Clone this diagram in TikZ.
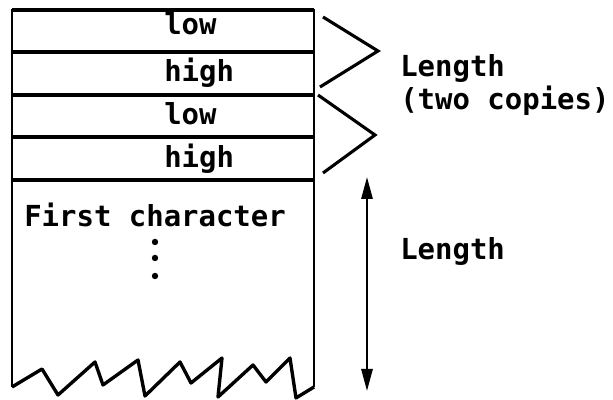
\documentclass[tikz,border=0pt]{standalone}
\usepackage{fontspec}
\setmonofont{DejaVu Sans Mono}
\usetikzlibrary{arrows.meta}
\tikzset{
  field/.style={anchor=base west,inner sep=0pt,font=\ttfamily\bfseries\fontsize{20.6}{24}\selectfont},
  sep/.style={line width=2.8pt},
  frame/.style={line width=1.8pt},
  span/.style={line width=1.6pt,{Triangle[length=0.55cm,width=0.28cm]}-{Triangle[length=0.55cm,width=0.28cm]}},
}
\begin{document}
\begin{tikzpicture}
        \useasboundingbox (0,0) rectangle (15.325,10);
        \draw[frame] (0.3,0.325) -- (0.3,9.75) -- (7.85,9.75) -- (7.85,0.325);
        \draw[sep] (0.3,9.75) -- (7.85,9.75);
        \draw[sep] (0.3,8.7) -- (7.85,8.7);
        \draw[sep] (0.3,7.625) -- (7.85,7.625);
        \draw[sep] (0.3,6.575) -- (7.85,6.575);
        \draw[sep] (0.3,5.5) -- (7.85,5.5);
        \draw[line width=2.4pt,line join=round] (0.3,0.325) -- (1.05,0.775) -- (1.45,0.125) -- (2.375,0.95) -- (2.575,0.375) -- (3.45,1.0) -- (3.625,0.1) -- (4.5,0.95) -- (4.775,0.425) -- (5.55,1.05) -- (5.45,0.075) -- (6.325,0.875) -- (6.65,0.45) -- (7.25,1.05) -- (7.4,0.05) -- (7.85,0.325);
        \node[field] at (4.1,9.125) (low1) {low};
        \node[field] at (4.1,7.95) (high1) {high};
        \node[field] at (4.1,6.875) (low2) {low};
        \node[field] at (4.1,5.8) (high2) {high};
        \node[field] at (0.6,4.325) (first) {First character};
        \fill (3.875,3.95) circle (0.08) (3.875,3.55) circle (0.08) (3.875,3.1) circle (0.08);
        \draw[line width=2.2pt] (8.075,9.575) -- (9.45,8.725) -- (8.0,7.825);
        \draw[line width=2.2pt] (7.95,7.625) -- (9.375,6.625) -- (8.075,5.675);
        \node[field] at (10,8.075) (copies) {Length};
        \node[field] at (10,7.25) (two) {(two copies)};
        \coordinate (lentop) at (9.175,5.575);
        \coordinate (lenbot) at (9.175,0.225);
        \draw[span] (lentop) -- (lenbot);
        \node[field] at (10,3.5) (len) {Length};
    \end{tikzpicture}
\end{document}
